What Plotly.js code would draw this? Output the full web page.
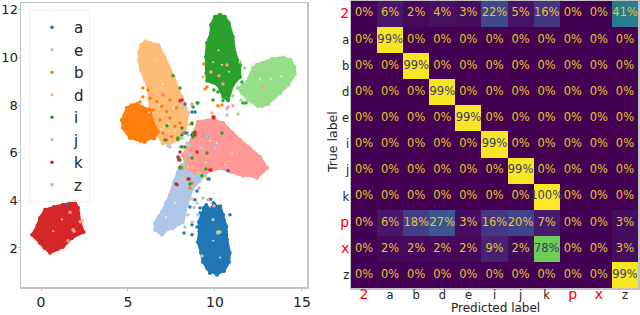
<!DOCTYPE html>
<html><head><meta charset="utf-8">
<script src="https://cdn.plot.ly/plotly-3.0.1.min.js"></script>
<style>html,body{margin:0;padding:0;background:#fff}#c{width:640px;height:315px}</style>
</head><body><div id="c"></div>
<script>
const classNames = ['a','e','b','d','i','j','k','z'];
const classColors = ['#1f77b4','#aec7e8','#ff7f0e','#ffbb78','#2ca02c','#98df8a','#d62728','#ff9896'];

// cluster outlines (data units)
const blobA = [[9.37,3.68],[9.25,3.4],[9.08,3.09],[9.1,2.7],[9.02,2.25],[9.2,1.8],[9.31,1.41],[9.55,1.15],[9.71,0.95],[9.9,1.0],[10.11,0.87],[10.3,1.0],[10.52,1.03],[10.80,1.41],[10.85,1.8],[10.69,2.34],[10.65,2.9],[10.46,3.39],[10.3,3.75],[10.17,3.72],[9.95,3.85],[9.71,3.60],[9.5,3.8]];
const blobE = [[8.10,5.49],[7.87,5.19],[7.64,4.77],[7.41,4.23],[7.2,3.9],[6.95,3.51],[6.75,3.3],[6.55,3.05],[6.55,2.76],[6.95,2.55],[7.3,2.8],[7.59,2.84],[8.16,3.09],[8.25,3.4],[8.39,3.81],[8.74,4.52],[9.1,4.8],[9.43,5.07],[8.85,5.36]];
const blobB = [[4.66,7.38],[4.8,7.6],[4.94,7.88],[5.2,8.0],[5.52,8.05],[5.80,7.92],[6.26,7.80],[6.4,7.4],[6.55,7.08],[6.72,6.87],[6.5,6.6],[6.26,6.62],[5.95,6.45],[5.69,6.50],[5.11,6.62],[4.71,7.04]];
const blobD = [[6.26,10.61],[6.0,10.68],[5.75,10.53],[5.63,10.2],[5.63,9.90],[5.75,9.45],[5.98,9.06],[6.15,8.72],[6.26,7.92],[6.5,7.3],[6.67,6.83],[7.0,6.4],[7.41,6.4],[7.99,6.6],[8.28,7.0],[8.45,7.67],[8.1,8.34],[7.63,9.18],[7.1,10.03],[6.75,10.53]];
const blobI = [[10.29,11.79],[10.0,11.71],[9.77,11.37],[9.77,11.03],[9.54,10.61],[9.48,10.03],[9.5,9.35],[9.55,9.02],[10.17,8.85],[10.47,8.35],[10.75,8.2],[11.03,8.85],[11.44,9.18],[11.44,9.69],[11.15,10.19],[11.03,10.87],[10.8,11.45],[10.57,11.71]];
const blobJ = [[11.32,8.72],[11.84,8.97],[12.18,9.56],[12.4,9.7],[12.70,9.77],[13.3,9.95],[13.91,10.0],[14.35,9.9],[14.58,9.6],[14.60,9.3],[14.20,8.85],[13.74,8.51],[13.05,8.05],[12.7,7.95],[12.47,7.95],[11.90,8.22],[11.55,8.51]];
const blobK = [[-0.5,2.55],[-0.2,2.95],[-0.06,3.26],[0.23,3.60],[0.75,3.72],[1.26,3.81],[1.95,3.93],[2.13,3.68],[2.24,3.09],[2.45,2.67],[1.78,2.42],[1.26,2.04],[0.95,1.95],[0.52,1.8],[0.2,2.0],[-0.06,2.21]];
const blobZ = [[9.02,7.29],[9.5,7.35],[9.89,7.42],[10.46,7.25],[11.0,6.85],[11.44,6.54],[12.0,6.2],[12.59,5.82],[13.0,5.36],[12.41,4.95],[11.9,5.05],[11.61,5.03],[10.9,5.2],[10.29,5.36],[9.54,5.19],[8.85,5.15],[8.39,5.36],[8.16,5.91],[8.5,6.33],[8.75,6.8]];

// individually visible points
const dotsA = [[8.85,7.71],[8.28,8.05],[8.68,7.71],[8.10,6.75],[8.28,6.83],[9.54,6.66],[10.75,5.24],[8.22,2.63],[8.97,4.39],[9.60,4.90],[8.85,4.02],[8.56,3.72],[9.14,3.68],[8.68,2.97],[8.68,2.55],[8.97,2.88],[9.14,3.47],[10.46,3.39],[10.29,3.43],[1.49,3.81],[10.86,3.4],[9.9,3.9],[9.75,4.05],[8.39,6.83],[8.68,6.75],[8.28,6.24],[9.66,4.9]];
const dotsE = [[8.28,2.88],[8.68,3.09],[8.97,3.89],[10.17,2.63],[8.45,3.39],[9.02,3.39],[9.25,1.66],[9.89,3.18],[10.69,7.84],[10.69,7.59],[7.41,6.24],[8.16,7.88],[9.54,6.66],[8.56,6.33],[7.99,5.82],[8.6,5.9],[9.2,6.2],[8.8,3.7],[7.30,6.29],[7.99,6.24],[8.39,6.41],[8.45,5.99],[10,6.2]];
const dotsB = [[9.37,9.73],[9.54,8.76],[9.43,8.68],[10.17,7.97],[10.40,8.01],[5.86,8.72],[5.86,8.34],[5.69,8.13],[6.15,8.64],[6.26,8.29],[6.65,8.15],[6.45,7.80],[6.94,7.94],[7.22,7.73],[6.84,7.38],[7.41,7.46],[6.36,7.31],[6.55,6.96],[7.01,6.83],[7.51,6.68],[7.70,7.10],[7.99,7.25],[8.16,6.83],[7.87,6.54],[7.22,6.54],[6.45,6.68],[8.09,6.26],[7.80,7.88],[7.41,8.22],[7.01,8.43],[8.56,4.52],[8.68,4.73],[8.10,5.36]];
const dotsD = [[9.31,9.18],[8.68,8.0],[8.68,4.06],[8.10,4.90],[8.45,5.40],[9.48,4.98],[9.02,5.19],[9.83,7.67],[10.17,2.67],[8.5,7.2],[8.4,6.3],[8.28,6.12],[9.14,5.15],[8.68,5.40]];
const dotsI = [[7.59,9.23],[7.99,8.72],[9.02,8.09],[8.74,7.92],[8.68,7.21],[7.24,7.13],[7.13,6.54],[7.87,6.62],[8.10,7.04],[8.85,6.87],[8.74,6.66],[9.94,8.64],[9.89,8.22],[10.17,8.55],[10.46,8.18],[10.75,8.34],[11.61,8.09],[11.78,8.09],[11.55,8.97],[9.94,7.50],[7.99,5.36],[8.56,4.69],[9.25,5.03],[7.99,5.70],[8.68,5.78],[9.48,5.32],[7.87,6.58],[8.68,7.25],[8.74,6.83],[8.97,8.09],[7.99,5.40],[7.93,5.74],[8.10,6.24],[9.54,5.99],[10.40,6.83]];
const dotsJ = [[11.32,7.63],[11.03,8.39],[11.44,9.82],[11.72,9.56],[9.31,4.10],[10.29,2.67],[8.28,5.61],[8.45,6.75],[11.5,8.2],[8.10,6.62],[8.28,5.70]];
const dotsK = [[7.99,8.18],[9.89,7.50],[8.85,6.83],[8.97,6.03],[7.87,5.82],[7.76,4.69],[8.51,4.90],[9.77,5.28],[7.93,5.70],[8.10,8.22],[8.85,6.75],[7.99,6.03],[8.45,4.90],[7.82,4.65],[9.71,5.28],[9.94,7.46]];
const dotsZ = [[1.84,2.76],[2.36,3.13],[1.67,3.5],[1.55,2.3],[1.9,2.7],[2.25,3.1],[10.69,9.69],[9.77,9.39],[10.23,9.23],[10.46,8.89],[12.76,8.76],[11.03,7.97],[10.75,7.92],[8.68,8.05],[6.38,8.43],[9.94,3.76],[9.60,4.02],[9.08,4.52],[8.7,6.0],[9.3,5.9],[6.95,8.47],[7.24,6.75]];
// small unfilled specks inside the clouds
const specks = [[6.6,9.9],[7.0,8.9],[6.8,8.0],[7.3,7.2],[6.2,7.7],[7.6,7.9],[7.7,6.9],[6.9,7.0],[10.2,10.3],[10.4,9.7],[9.9,9.8],[10.8,9.4],[13.2,9.1],[13.8,9.2],[12.6,9.1],[10.1,6.4],[11.0,6.0],[9.7,6.5],[9.5,5.6],[10.6,5.5],[1.2,3.2],[0.7,2.7],[9.9,2.3],[10.3,1.6],[7.7,3.9],[7.2,3.3]];

const blobs = [blobA,blobE,blobB,blobD,blobI,blobJ,blobK,blobZ];
const dots = [dotsA,dotsE,dotsB,dotsD,dotsI,dotsJ,dotsK,dotsZ];
const blobOrder = [0,1,3,2,4,5,6,7];

// confusion matrix, percent
const labels = ['2','a','b','d','e','i','j','k','p','x','z'];
const redLabels = ['2','p','x'];
const row2 = [0,6,2,4,3,22,5,16,0,0,41];
const rowA = [0,99,0,0,0,0,0,0,0,0,0];
const rowB = [0,0,99,0,0,0,0,0,0,0,0];
const rowD = [0,0,0,99,0,0,0,0,0,0,0];
const rowE = [0,0,0,0,99,0,0,0,0,0,0];
const rowI = [0,0,0,0,0,99,0,0,0,0,0];
const rowJ = [0,0,0,0,0,0,99,0,0,0,0];
const rowK = [0,0,0,0,0,0,0,100,0,0,0];
const rowP = [0,6,18,27,3,16,20,7,0,0,3];
const rowX = [0,2,2,2,2,9,2,78,0,0,3];
const rowZ = [0,0,0,0,0,0,0,0,0,0,99];
const matrix = [row2,rowA,rowB,rowD,rowE,rowI,rowJ,rowK,rowP,rowX,rowZ];

const FONT = 'DejaVu Sans, sans-serif';
const traces = [];
blobOrder.forEach(i=>{
  const b = blobs[i];
  const closed = b.concat([b[0]]);
  traces.push({type:'scatter',mode:'lines+markers',x:closed.map(p=>p[0]),y:closed.map(p=>p[1]),
    fill:'toself',fillcolor:classColors[i],line:{color:classColors[i],width:2.5},
    marker:{color:classColors[i],size:4},showlegend:false,hoverinfo:'skip',xaxis:'x',yaxis:'y'});
});
traces.push({type:'scatter',mode:'markers',x:specks.map(p=>p[0]),y:specks.map(p=>p[1]),
  marker:{color:'rgba(255,255,255,0.75)',size:2},showlegend:false,hoverinfo:'skip',xaxis:'x',yaxis:'y'});
dots.forEach((d,i)=>{
  traces.push({type:'scatter',mode:'markers',name:classNames[i],x:d.map(p=>p[0]),y:d.map(p=>p[1]),
    marker:{color:classColors[i],size:3.5},hoverinfo:'skip',xaxis:'x',yaxis:'y'});
});
const idx = labels.map((_,i)=>i);
traces.push({type:'heatmap',x:idx,y:idx,z:matrix,zmin:0,zmax:100,colorscale:'Viridis',showscale:false,
  hoverinfo:'skip',xaxis:'x2',yaxis:'y2'});
const tx=[],ty=[],tt=[],tc=[];
matrix.forEach((r,j)=>r.forEach((v,i)=>{tx.push(i);ty.push(j);tt.push(v+'%');tc.push(v>=60?'#3f3a70':'#e2c62c');}));
traces.push({type:'scatter',mode:'text',x:tx,y:ty,text:tt,textposition:'middle center',
  textfont:{family:FONT,size:11.5,color:tc},showlegend:false,hoverinfo:'skip',xaxis:'x2',yaxis:'y2'});

const tick = labels.map(l=>redLabels.includes(l)?'<span style="color:#ff0000;font-size:14px">'+l+'</span>':l);
const frame = {showline:true,mirror:true,linecolor:'#c4c4c4',linewidth:1.5,showgrid:false,zeroline:false};
const layout = {
  width:640,height:315,margin:{l:0,r:0,t:0,b:0},paper_bgcolor:'#fff',plot_bgcolor:'#fff',
  font:{family:FONT,color:'#222'},
  xaxis:Object.assign({},frame,{domain:[21/640,307/640],range:[-1.15,15.29],tickvals:[0,5,10,15],ticks:'outside',ticklen:2,tickcolor:'#c4c4c4',tickfont:{size:14}}),
  yaxis:Object.assign({},frame,{domain:[28/315,312/315],range:[0.36,12.29],tickvals:[2,4,6,8,10,12],ticks:'outside',ticklen:2,tickcolor:'#c4c4c4',tickfont:{size:13},ticklabelstandoff:-3}),
  xaxis2:Object.assign({},frame,{domain:[351/640,638/640],anchor:'y2',range:[-0.5,10.5],tickvals:idx,ticktext:tick,ticks:'',tickfont:{size:11.5},ticklabelstandoff:-4}),
  yaxis2:Object.assign({},frame,{domain:[27/315,314.5/315],anchor:'x2',range:[10.5,-0.5],tickvals:idx,ticktext:tick,ticks:'',tickfont:{size:11.5},ticklabelstandoff:-2}),
  annotations:[
    {xref:'paper',yref:'paper',x:495/640,y:1-307.5/315,text:'Predicted label',showarrow:false,font:{size:12,color:'#222'},xanchor:'center',yanchor:'middle'},
    {xref:'paper',yref:'paper',x:333/640,y:1-142/315,text:'True label',showarrow:false,font:{size:12.5,color:'#222'},textangle:-90,xanchor:'center',yanchor:'middle'}
  ],
  showlegend:true,
  legend:{x:29/640,xanchor:'left',y:1-10/315,yanchor:'top',bgcolor:'rgba(255,255,255,0.8)',bordercolor:'#eeeeee',borderwidth:1,
    font:{size:15,color:'#222'},itemsizing:'trace',itemwidth:34,itemclick:false,itemdoubleclick:false,tracegroupgap:0},
};
Plotly.newPlot('c',traces,layout,{displayModeBar:false,staticPlot:true});
</script></body></html>
